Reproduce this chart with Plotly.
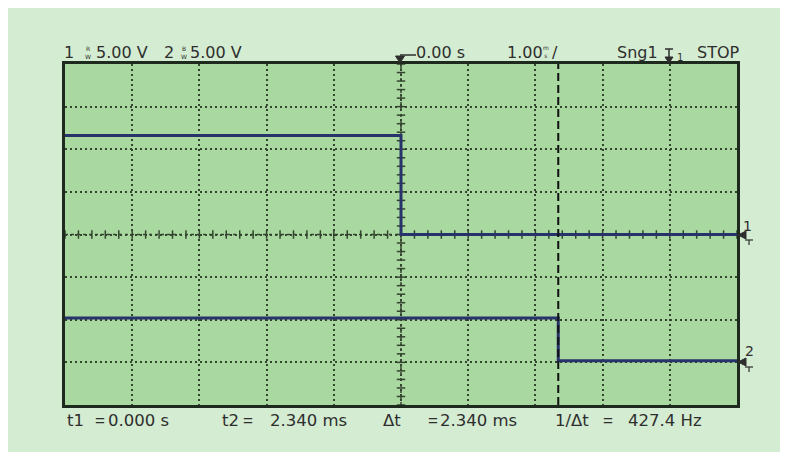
import numpy as np
import plotly.graph_objects as go

# ---------------- data ----------------
ch1_time_ms = [-5.0, 0.0, 5.0]
ch1_volts = [11.6, 0.0, 0.0]
ch2_time_ms = [-5.0, 2.34, 5.0]
ch2_volts = [5.0, 0.0, 0.0]
volts_per_div = 5.0
ch1_ground_div = 0.0
ch2_ground_div = -2.96
cursor_t2_ms = 2.34

header_scale = ["5.00 V", "5.00 V"]
header_time = "0.00 s"
header_tdiv = "1.00"
header_mode = "Sng1"
header_state = "STOP"
meas_labels = ["t1", "t2", "Δt", "1/Δt"]
meas_values = ["0.000 s", "2.340 ms", "2.340 ms", "427.4 Hz"]

# ---------------- style ----------------
PANEL = "#d4ecd1"
PLOTBG = "#a9d8a0"
GRID = "#34452f"
TRACE = "#27336a"
TXT = "#2e2e2e"
BORDER = "#1e2a1e"
FONT = "DejaVu Sans"

W, H = 774, 444
ML, MR, MT, MB = 57, 45, 56, 47


def PX(x):  # page pixel -> paper x
    return (x - 8 - ML) / (W - ML - MR)


def PY(y):  # page pixel -> paper y
    return (H - MB - (y - 8)) / (H - MT - MB)


fig = go.Figure()

# center-axis tick marks (graticule decoration)
hx = np.round(np.arange(-5, 5.001, 0.2), 3)
vy = np.round(np.arange(-4, 4.001, 0.2), 3)
fig.add_trace(go.Scatter(x=hx, y=np.zeros_like(hx), mode="markers", hoverinfo="skip",
                         marker=dict(symbol="line-ns", size=6, color=GRID,
                                     line=dict(width=1.5, color=GRID))))
fig.add_trace(go.Scatter(x=np.zeros_like(vy), y=vy, mode="markers", hoverinfo="skip",
                         marker=dict(symbol="line-ew", size=6, color=GRID,
                                     line=dict(width=1.5, color=GRID))))

# traces
fig.add_trace(go.Scatter(x=ch1_time_ms, y=[v / volts_per_div + ch1_ground_div for v in ch1_volts],
                         mode="lines", line=dict(shape="hv", color=TRACE, width=3)))
fig.add_trace(go.Scatter(x=ch2_time_ms, y=[v / volts_per_div + ch2_ground_div for v in ch2_volts],
                         mode="lines", line=dict(shape="hv", color=TRACE, width=3)))

shapes = []
# center graticule lines (denser dashes)
shapes.append(dict(type="line", xref="x", yref="y", x0=-5, x1=5, y0=0, y1=0,
                   line=dict(color=GRID, width=1.5, dash="3px,3px"), layer="below"))
shapes.append(dict(type="line", xref="x", yref="y", x0=0, x1=0, y0=-4, y1=4,
                   line=dict(color=GRID, width=1.5, dash="3px,3px"), layer="below"))
# cursor
shapes.append(dict(type="line", xref="x", yref="paper", x0=cursor_t2_ms, x1=cursor_t2_ms, y0=0, y1=1,
                   line=dict(color="#111111", width=2, dash="8px,4px")))


def tri(tip, b1, b2, color=TXT):
    return dict(type="path", xref="paper", yref="paper", fillcolor=color, line=dict(color=color, width=1),
                path=f"M {PX(tip[0])} {PY(tip[1])} L {PX(b1[0])} {PY(b1[1])} L {PX(b2[0])} {PY(b2[1])} Z")


def seg(x0, y0, x1, y1, color=TXT, w=1.5):
    return dict(type="line", xref="paper", yref="paper", x0=PX(x0), y0=PY(y0), x1=PX(x1), y1=PY(y1),
                line=dict(color=color, width=w))


# trigger position marker (top center)
shapes.append(seg(400, 55, 416, 55))
shapes.append(tri((400, 63), (395.5, 56), (404.5, 56)))
# trigger level marker near Sng1
shapes.append(seg(665, 49, 673, 49))
shapes.append(seg(669, 49, 669, 58))
shapes.append(tri((669, 63), (665, 57), (673, 57)))
# ground markers on right
for gy in (235, 362):
    shapes.append(tri((738, gy), (746, gy - 4), (746, gy + 4)))
    shapes.append(seg(745, gy + 5, 753, gy + 5, w=1.2))
    shapes.append(seg(749, gy + 5, 749, gy + 10, w=1.2))

ann = []


def txt(s, x, y, size=16, anchor="left", family=FONT):
    ann.append(dict(text=s, x=PX(x), y=PY(y), xref="paper", yref="paper", xanchor=anchor,
                    yanchor="middle", showarrow=False, borderpad=0,
                    font=dict(family=family, size=size, color=TXT)))


# header
txt("1", 63, 52.5)
txt("R<br>W", 84, 52, size=6)
txt(header_scale[0], 95, 52.5)
txt("2", 163, 52.5)
txt("B<br>W", 180, 52, size=6)
txt(header_scale[1], 189, 52.5)
txt(header_time, 415, 52.5)
txt(header_tdiv, 506, 52.5)
txt("m<br>s", 542, 51, size=6)
txt("/", 551, 52.5)
txt(header_mode, 616, 52.5)
txt("1", 676, 57, size=10)
txt(header_state, 696, 52.5)

# bottom measurements
lab_x = [66, 221, 382, 554]
eq_x = [94, 242, 427, 602]
val_x = [107, 269, 439, 627]
for lab, val, lx, ex, vx in zip(meas_labels, meas_values, lab_x, eq_x, val_x):
    txt(lab, lx, 420.5, size=16.5)
    txt("=", ex, 420.5, size=17, family="Liberation Sans")
    txt(val, vx, 420.5, size=16.5)

# ground labels
txt("1", 742, 226, size=14)
txt("2", 744, 351, size=14)

axis_common = dict(showticklabels=False, ticks="", zeroline=False, showgrid=True,
                   gridcolor=GRID, gridwidth=1.5, griddash="2px,3px",
                   showline=True, mirror=True, linecolor=BORDER, linewidth=2.5, fixedrange=True)

fig.update_layout(
    width=W, height=H, margin=dict(l=ML, r=MR, t=MT, b=MB),
    paper_bgcolor=PANEL, plot_bgcolor=PLOTBG, showlegend=False,
    xaxis=dict(range=[-5, 5], dtick=1, tick0=0, **axis_common),
    yaxis=dict(range=[-4, 4], dtick=1, tick0=0, **axis_common),
    shapes=shapes, annotations=ann,
)

fig.write_html("out.html")
